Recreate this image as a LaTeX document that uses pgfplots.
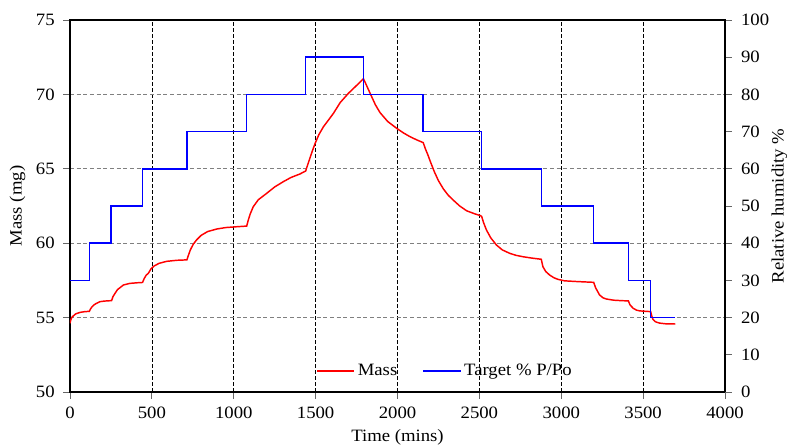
\documentclass[border=0pt]{standalone}
\usepackage{fontspec}
\setmainfont{Liberation Serif}[FakeStretch=1.08]
\usepackage{pgfplots}
\pgfplotsset{compat=1.18}
\begin{document}
\begin{tikzpicture}
\pgfplotsset{
  every axis/.append style={
    scale only axis, width=491.25pt, height=279pt,
    xmin=0, xmax=4000,
    font=\fontsize{13}{15}\selectfont,
    tick label style={font=\fontsize{13}{15}\selectfont},
    label style={font=\fontsize{13}{15}\selectfont},
    /pgf/number format/assume math mode=true,
    /pgf/number format/1000 sep={},
    tick align=outside,
    major tick length=5pt,
    tick style={gray!80!black, line width=0.6pt},
    axis line style={line width=0.8pt},
  }
}
\begin{axis}[name=ax,
  ymin=50, ymax=75, ytick={50,55,...,75},
  xtick={0,500,...,4000},
  xtick pos=left, ytick pos=left,
  xmajorgrids, ymajorgrids,
  x grid style={black, dash pattern=on 3pt off 1.5pt, line width=0.5pt},
  y grid style={gray, dash pattern=on 3pt off 2pt, line width=0.5pt},
  yticklabel style={xshift=-3pt},
  xticklabel style={yshift=-2.5pt},
  xlabel={Time (mins)}, ylabel={Mass (mg)},
  xlabel style={at={(axis description cs:0.5,-0.121)}, anchor=center},
  ylabel style={at={(axis description cs:-0.0802,0.5)}, anchor=center},
]
\addplot[red, line width=1.1pt] coordinates {
(0,54.62) (5,54.85) (12,55.02) (20,55.11) (35,55.25) (61,55.35) (90,55.40) (118,55.42)
(125,55.58) (134,55.72) (145,55.84) (160,55.95) (183,56.07) (210,56.11) (254,56.14)
(262,56.40) (275,56.63) (290,56.88) (310,57.05) (326,57.19) (366,57.30) (410,57.34) (443,57.36)
(452,57.60) (465,57.85) (478,57.97) (495,58.28) (515,58.48) (545,58.65) (590,58.78) (650,58.85) (714,58.88)
(722,59.15) (735,59.55) (752,59.92) (773,60.22) (800,60.52) (840,60.78) (895,60.95) (950,61.05) (1010,61.10) (1079,61.15)
(1089,61.56) (1100,61.95) (1119,62.45) (1150,62.92) (1201,63.35) (1250,63.78) (1302,64.13) (1350,64.42) (1404,64.65) (1439,64.85)
(1460,65.55) (1480,66.2) (1497,66.71) (1520,67.3) (1548,67.83) (1580,68.3) (1609,68.73) (1650,69.45) (1700,70.07) (1750,70.6) (1792,71.05)
(1805,70.75) (1820,70.38) (1840,69.9) (1865,69.3) (1893,68.78) (1940,68.18) (1995,67.72) (2035,67.42) (2076,67.16) (2120,66.93) (2157,66.76)
(2170,66.35) (2185,65.95) (2200,65.5) (2225,64.8) (2250,64.2) (2280,63.65) (2310,63.22) (2340,62.90) (2380,62.50) (2422,62.18) (2470,61.98) (2507,61.85) (2514,61.80)
(2525,61.4) (2543,60.89) (2570,60.35) (2604,59.88) (2640,59.55) (2685,59.32) (2725,59.18) (2767,59.09) (2820,59.00) (2878,58.92)
(2888,58.42) (2905,58.10) (2929,57.86) (2955,57.68) (2980,57.57) (3020,57.47) (3100,57.42) (3198,57.37)
(3210,57.0) (3234,56.52) (3255,56.33) (3275,56.25) (3320,56.17) (3365,56.14) (3410,56.12)
(3420,55.85) (3440,55.62) (3460,55.50) (3480,55.45) (3520,55.42) (3546,55.40)
(3553,55.1) (3560,54.88) (3575,54.72) (3600,54.63) (3640,54.58) (3697,54.57)
};
\end{axis}
\begin{axis}[
  axis y line*=right, axis x line=none,
  ymin=0, ymax=100, ytick={0,10,...,100},
  yticklabel style={xshift=3.5pt},
  ylabel={Relative humidity \%},
  ylabel style={at={(axis description cs:1.083,0.5)}, anchor=center},
  legend style={at={(0.573,0.056)}, anchor=center, draw=none, fill=none,
    legend columns=2, font=\fontsize{13}{15}\selectfont,
    /tikz/every even column/.append style={column sep=17pt}},
  legend image code/.code={\draw[#1] (0pt,0pt) -- (28pt,0pt);},
]
\addlegendimage{red, line width=1.1pt}
\addlegendentry{Mass}
\addplot[blue, line width=1.1pt, const plot] coordinates {
(0,30) (118,40) (250,50) (442,60) (714,70) (1079,80) (1439,90) (1792,80)
(2156,70) (2514,60) (2878,50) (3198,40) (3410,30) (3546,20) (3697,20)
};
\addlegendentry{Target \% P/Po}
\end{axis}
\pgfresetboundingbox
\path[use as bounding box] ([xshift=-52.5pt,yshift=-39.75pt]ax.south west) rectangle ([xshift=46.5pt,yshift=15pt]ax.north east);
\end{tikzpicture}
\end{document}
